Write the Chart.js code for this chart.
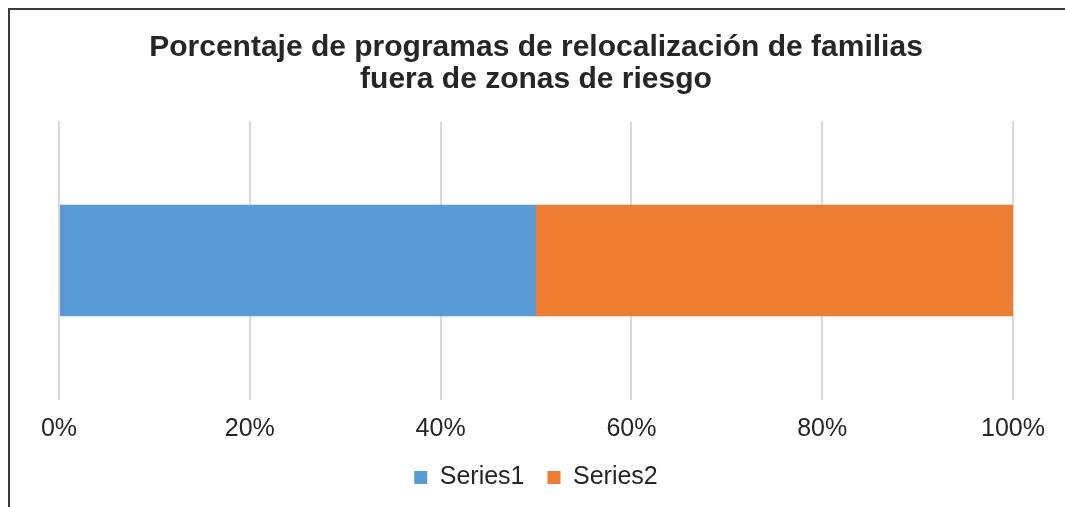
<!DOCTYPE html>
<html>
<head>
<meta charset="utf-8">
<script src="https://cdn.jsdelivr.net/npm/chart.js@4.4.1/dist/chart.umd.min.js"></script>
<style>
  html, body { margin: 0; padding: 0; background: #fff; }
  #wrap { position: relative; width: 1065px; height: 507px; overflow: hidden; }
  #frame { position: absolute; left: 8px; top: 8px; width: 1100px; height: 600px;
           border-left: 2px solid #3a3a3a; border-top: 2px solid #3a3a3a; box-sizing: border-box; }
  canvas { position: absolute; left: 0; top: 0; }
</style>
</head>
<body>
<div id="wrap">
  <div id="frame"></div>
  <canvas id="c" width="1065" height="507"></canvas>
</div>
<script>
const categories = [''];
const series1 = [50];
const series2 = [50];
const seriesNames = ['Series1', 'Series2'];
const titleLines = ['Porcentaje de programas de relocalización de familias', 'fuera de zonas de riesgo'];
const tickValues = [0, 20, 40, 60, 80, 100];

const textColor = '#262626';
const fam = "'Liberation Sans', Arial, sans-serif";
new Chart(document.getElementById('c'), {
  type: 'bar',
  data: {
    labels: categories,
    datasets: [
      { label: seriesNames[0], data: series1, backgroundColor: '#5B9BD5', borderWidth: 0,
        barPercentage: 0.8, categoryPercentage: 0.5 },
      { label: seriesNames[1], data: series2, backgroundColor: '#ED7D31', borderWidth: 0,
        barPercentage: 0.8, categoryPercentage: 0.5 }
    ]
  },
  options: {
    indexAxis: 'y',
    responsive: false,
    animation: false,
    layout: { padding: { left: 59, right: 52, top: 0, bottom: 7 } },
    scales: {
      x: {
        stacked: true, min: 0, max: 100,
        afterBuildTicks: (axis) => { axis.ticks = tickValues.map(v => ({ value: v })); },
        afterFit: (scale) => { scale.height = 42; },
        ticks: { callback: v => v + '%', color: textColor, padding: 17,
                 font: { family: fam, size: 25, lineHeight: 1.0 } },
        grid: { color: '#D9D9D9', lineWidth: 2, drawTicks: false },
        border: { display: false }
      },
      y: { stacked: true, display: false }
    },
    plugins: {
      title: {
        display: true, text: titleLines, color: textColor,
        font: { family: fam, size: 30, weight: 'bold', lineHeight: 1.07 },
        padding: { top: 32, bottom: 25 }
      },
      legend: {
        position: 'bottom',
        labels: { color: textColor, boxWidth: 13, boxHeight: 13, padding: 23,
                  font: { family: fam, size: 25 } }
      },
      tooltip: { enabled: false }
    }
  }
});
</script>
</body>
</html>
